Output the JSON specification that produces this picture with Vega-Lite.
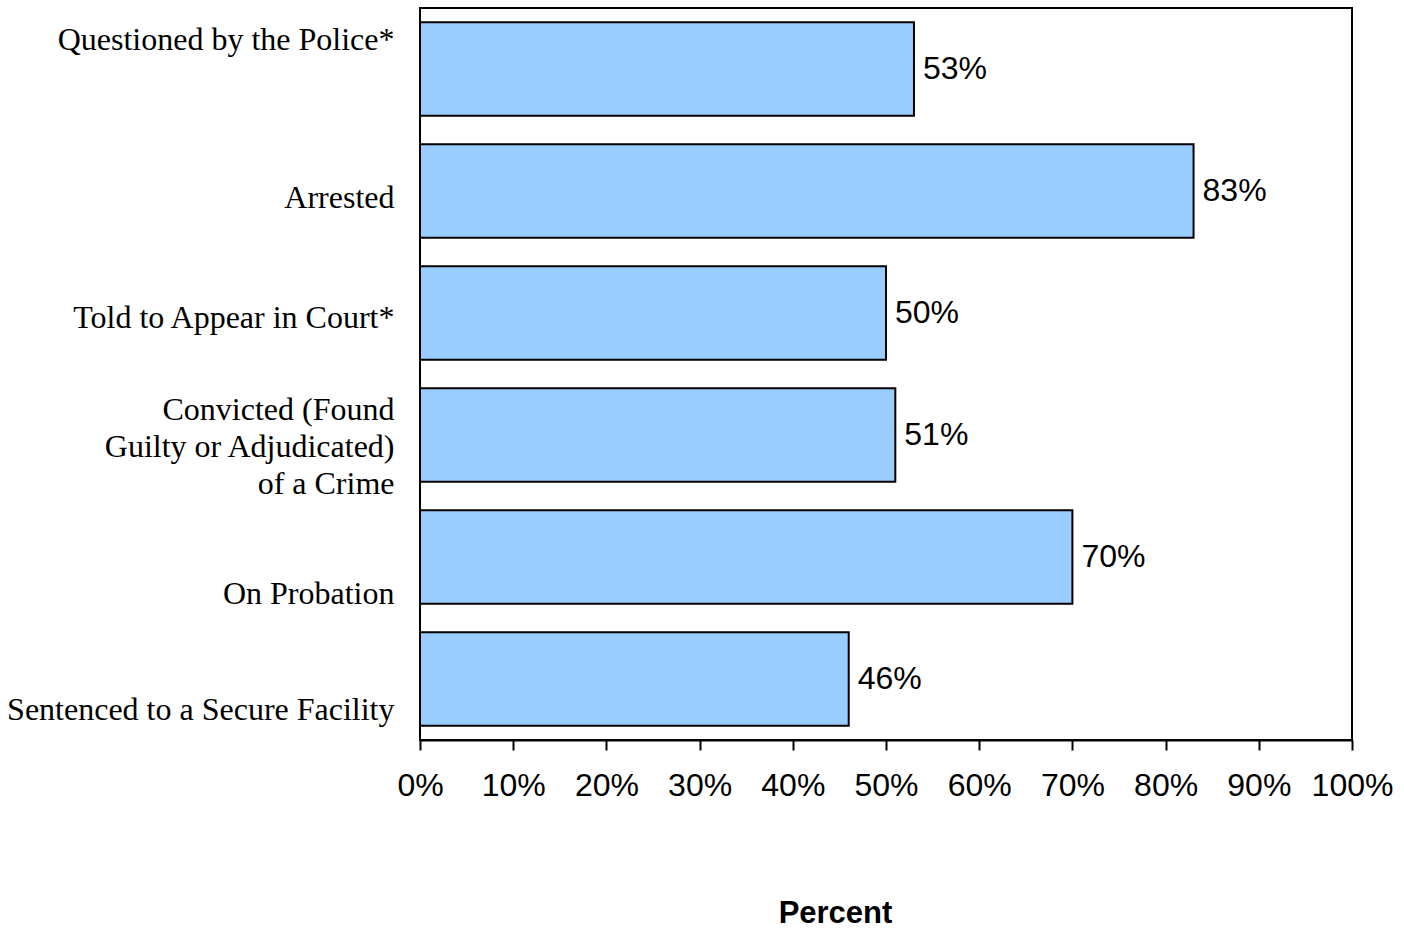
{
  "$schema": "https://vega.github.io/schema/vega-lite/v6.json",
  "width": 932,
  "height": 732,
  "autosize": {"type": "none"},
  "padding": {"left": 420, "top": 8, "right": 52, "bottom": 188},
  "background": "white",
  "config": {"view": {"stroke": "black", "strokeWidth": 2}},
  "data": {"values": [
    {"category": "Questioned by the Police*", "pct": 0.53},
    {"category": "Arrested", "pct": 0.83},
    {"category": "Told to Appear in Court*", "pct": 0.50},
    {"category": "Convicted (Found|Guilty or Adjudicated)|of a Crime", "pct": 0.51},
    {"category": "On Probation", "pct": 0.70},
    {"category": "Sentenced to a Secure Facility", "pct": 0.46}
  ]},
  "encoding": {
    "y": {
      "field": "category", "type": "nominal", "sort": null,
      "scale": {"paddingInner": 0.235, "paddingOuter": 0.1175},
      "axis": {
        "title": null, "ticks": false, "domain": false,
        "labelFont": "Liberation Serif", "labelFontSize": 32, "labelColor": "black",
        "labelPadding": 26, "labelLimit": 500, "labelLineHeight": 37,
        "labelExpr": "split(datum.label, '|')",
        "labelOffset": {
          "condition": [
            {"test": "datum.value == 'Questioned by the Police*'", "value": -29},
            {"test": "datum.value == 'Arrested'", "value": 7},
            {"test": "datum.value == 'Told to Appear in Court*'", "value": 5},
            {"test": "indexof(datum.value, 'Convicted') == 0", "value": -25},
            {"test": "datum.value == 'On Probation'", "value": 37},
            {"test": "datum.value == 'Sentenced to a Secure Facility'", "value": 31}
          ],
          "value": 0
        }
      }
    },
    "x": {
      "field": "pct", "type": "quantitative",
      "scale": {"domain": [0, 1], "nice": false},
      "axis": {
        "title": "Percent", "format": ".0%", "values": [0,0.1,0.2,0.3,0.4,0.5,0.6,0.7,0.8,0.9,1],
        "grid": false, "domainColor": "black", "domainWidth": 2,
        "tickColor": "black", "tickWidth": 2, "tickSize": 10,
        "labelFont": "Liberation Sans", "labelFontSize": 32, "labelColor": "black",
        "labelPadding": 20, "labelFlush": false, "labelOverlap": false,
        "titleFont": "Liberation Sans", "titleFontSize": 31, "titleFontWeight": "bold",
        "titleColor": "black", "titlePadding": 97, "titleX": 415
      }
    }
  },
  "layer": [
    {"mark": {"type": "bar", "fill": "#99CCFF", "stroke": "black", "strokeWidth": 2}},
    {"mark": {"type": "text", "align": "left", "baseline": "middle", "dx": 9, "font": "Liberation Sans", "fontSize": 32, "color": "black"},
     "encoding": {"text": {"field": "pct", "type": "quantitative", "format": ".0%"}}}
  ]
}
